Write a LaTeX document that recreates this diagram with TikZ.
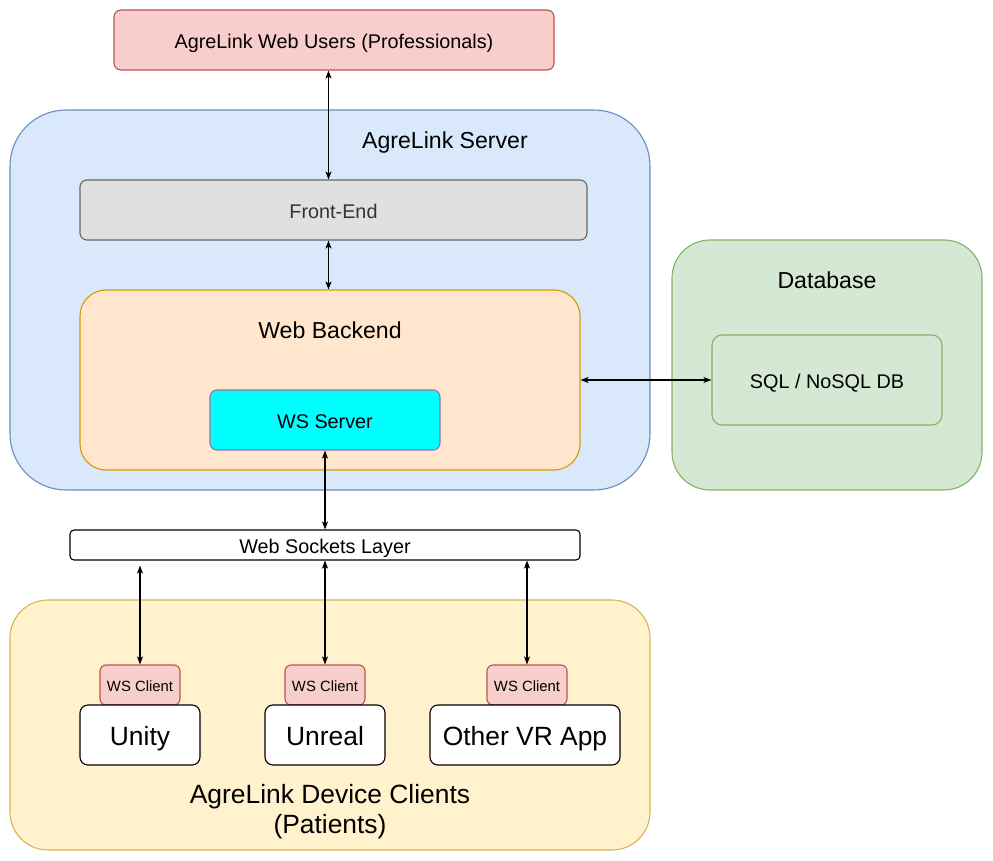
\documentclass[tikz,border=0pt]{standalone}
\usepackage{fontspec}
\setmainfont{Liberation Sans}
\usetikzlibrary{arrows.meta,calc}
\definecolor{redfill}{HTML}{F8CECC}
\definecolor{redline}{HTML}{B85450}
\definecolor{bluefill}{HTML}{DAE8FC}
\definecolor{blueline}{HTML}{6C8EBF}
\definecolor{grayfill}{HTML}{E0E0E0}
\definecolor{grayline}{HTML}{666666}
\definecolor{graytext}{HTML}{333333}
\definecolor{orangefill}{HTML}{FFE6CC}
\definecolor{orangeline}{HTML}{D79B00}
\definecolor{cyanfill}{HTML}{00FFFF}
\definecolor{purpleline}{HTML}{9673A6}
\definecolor{greenfill}{HTML}{D5E8D4}
\definecolor{greenline}{HTML}{82B366}
\definecolor{yellowfill}{HTML}{FFF2CC}
\definecolor{yellowline}{HTML}{D6B656}
\tikzset{
  box/.style={draw, line width=1.1pt, inner sep=0pt, anchor=center, align=center},
  fs12/.style={font=\fontsize{19.8}{23}\selectfont, text height=17.2pt, text depth=0pt},
  fs14/.style={font=\fontsize{23.1}{27}\selectfont, text height=19.5pt, text depth=0pt},
  fs16/.style={font=\fontsize{26.4}{30}\selectfont, text height=21.9pt, text depth=0pt},
  fs16m/.style={font=\fontsize{26.4}{30}\selectfont},
  fs9/.style={font=\fontsize{14.85}{17}\selectfont, text height=13.6pt, text depth=0pt},
  arr/.style={{Stealth[length=8pt,width=6pt,inset=2pt]}-{Stealth[length=8pt,width=6pt,inset=2pt]}, line width=1.1pt, black},
  lbl/.style={inner sep=0pt, anchor=center, align=center},
}
\begin{document}
\begin{tikzpicture}[x=1pt,y=-1pt]
\useasboundingbox (0,0) rectangle (993,861);
% containers
\node[box, fill=bluefill, draw=blueline, rounded corners=56pt, minimum width=640pt, minimum height=380pt] (server) at (330,300) {};
\node[lbl, fs14] (servertitle) at (445,139) {AgreLink Server};
\node[box, fill=greenfill, draw=greenline, rounded corners=38pt, minimum width=310pt, minimum height=250pt] (db) at (827,365) {};
\node[lbl, fs14] (dbtitle) at (827,278.5) {Database};
\node[box, fill=yellowfill, draw=yellowline, rounded corners=38pt, minimum width=640pt, minimum height=250pt] (clients) at (330,725) {};
\node[lbl, fs16m] (clientstitle) at (330,812) {AgreLink Device Clients\\(Patients)};
% top
\node[box, fill=redfill, draw=redline, rounded corners=7pt, minimum width=440pt, minimum height=60pt, fs12] (users) at (334,40) {AgreLink Web Users (Professionals)};
\node[box, fill=grayfill, draw=grayline, text=graytext, rounded corners=7pt, minimum width=507pt, minimum height=60pt, fs12] (fe) at (333.5,210) {Front-End};
\node[box, fill=orangefill, draw=orangeline, rounded corners=26pt, minimum width=500pt, minimum height=180pt] (backend) at (330,380) {};
\node[lbl, fs14] (backendtitle) at (330,328.5) {Web Backend};
\node[box, fill=cyanfill, draw=purpleline, rounded corners=7pt, minimum width=230pt, minimum height=60pt, fs12] (wss) at (325,420) {WS Server};
\node[box, fill=greenfill, draw=greenline, rounded corners=10pt, minimum width=230pt, minimum height=90pt, fs12] (sql) at (827,380) {SQL / NoSQL DB};
\node[box, fill=white, draw=black, rounded corners=4pt, minimum width=510pt, minimum height=30pt, fs12] (layer) at (325,545) {Web Sockets Layer};
% clients
\node[box, fill=redfill, draw=redline, rounded corners=6pt, minimum width=80pt, minimum height=40pt, fs9] (wsc1) at (140,685) {WS Client};
\node[box, fill=redfill, draw=redline, rounded corners=6pt, minimum width=80pt, minimum height=40pt, fs9] (wsc2) at (325,685) {WS Client};
\node[box, fill=redfill, draw=redline, rounded corners=6pt, minimum width=80pt, minimum height=40pt, fs9] (wsc3) at (527,685) {WS Client};
\node[box, fill=white, draw=black, rounded corners=8pt, minimum width=120pt, minimum height=60pt, fs16] (unity) at (140,735) {Unity};
\node[box, fill=white, draw=black, rounded corners=8pt, minimum width=120pt, minimum height=60pt, fs16] (unreal) at (325,735) {Unreal};
\node[box, fill=white, draw=black, rounded corners=8pt, minimum width=190pt, minimum height=60pt, fs16] (other) at (525,735) {Other VR App};
% arrows
\coordinate (ax) at (328.5,0);
\draw[arr] (users.south -| ax) -- (fe.north -| ax);
\draw[arr] (fe.south -| ax) -- (backend.north -| ax);
\draw[arr] (backend.east) -- (sql.west);
\draw[arr] (wss.south) -- (wss.south |- layer.north);
\draw[arr, shorten <=5pt] (wsc1.north |- layer.south) -- (wsc1.north);
\draw[arr] (wsc2.north |- layer.south) -- (wsc2.north);
\draw[arr] (wsc3.north |- layer.south) -- (wsc3.north);
\end{tikzpicture}
\end{document}
